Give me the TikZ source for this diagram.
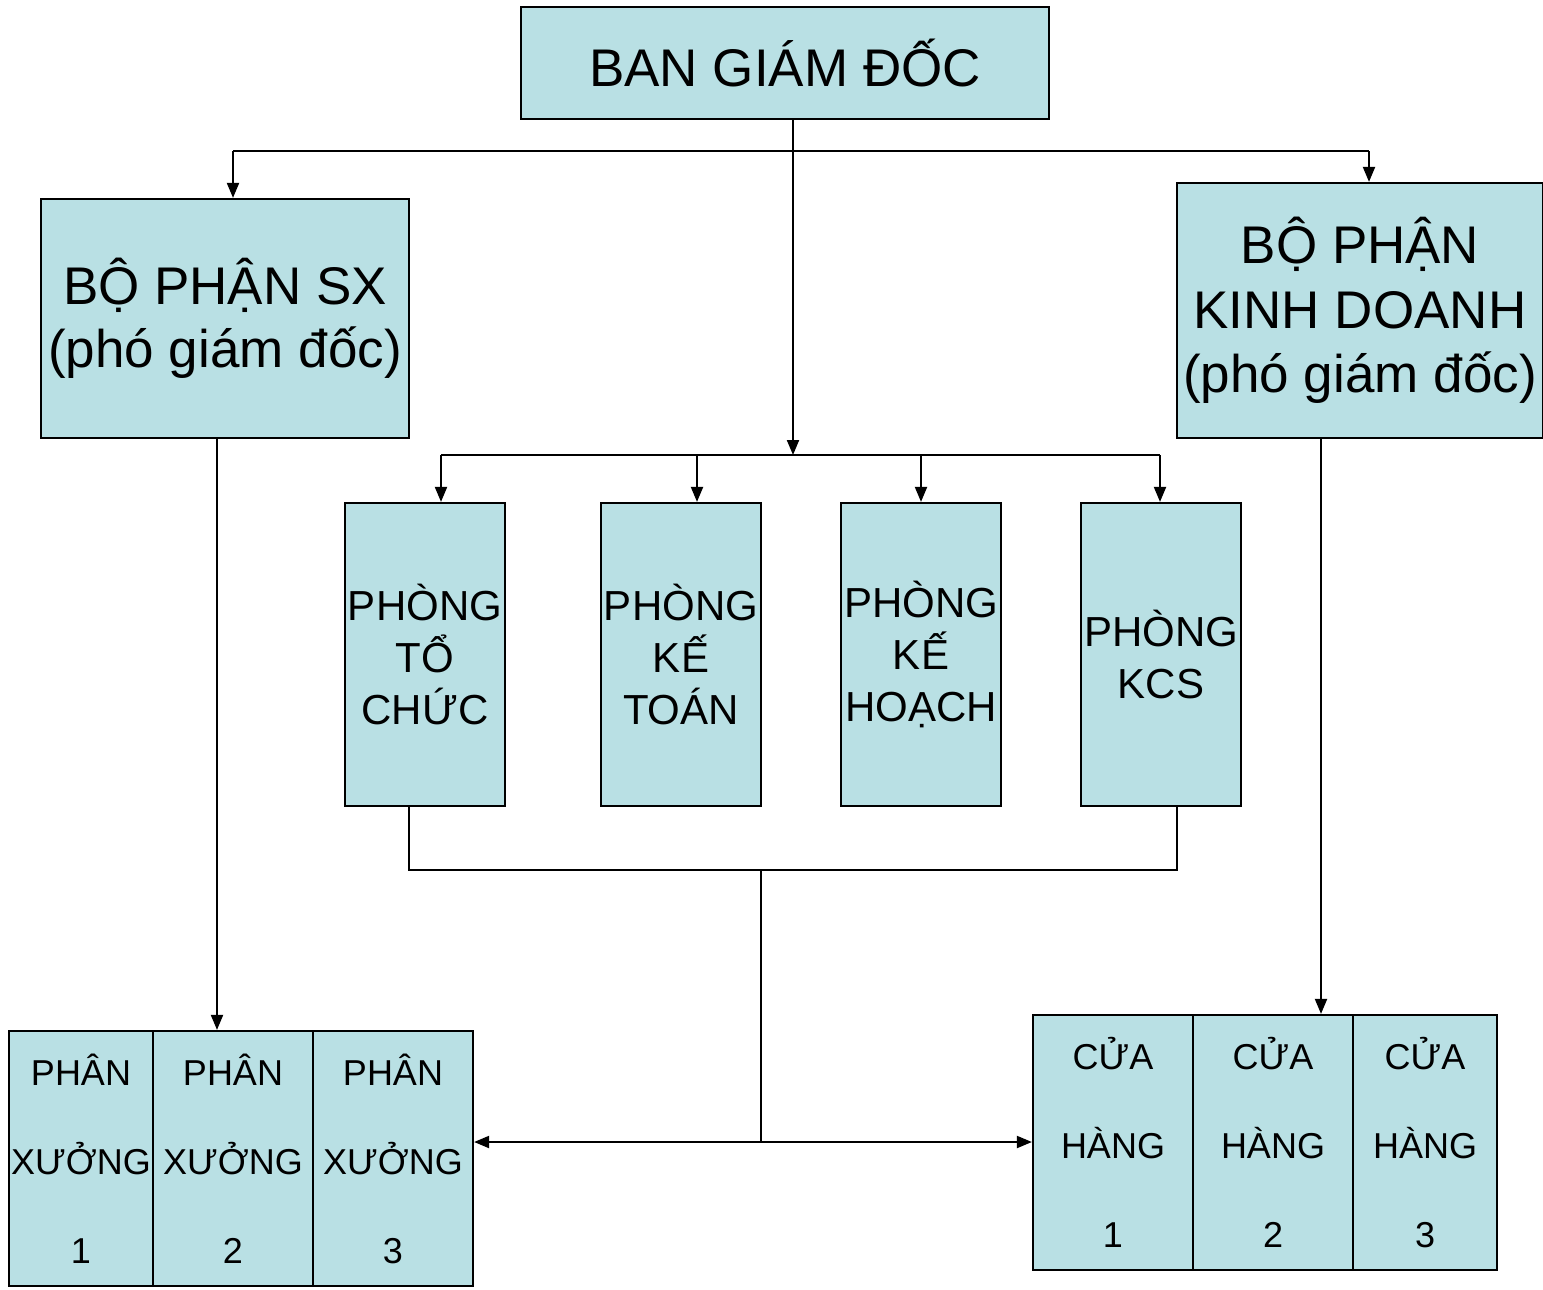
\documentclass[tikz,border=0pt]{standalone}
\usepackage{fontspec}
\setmainfont{Liberation Sans}
\usetikzlibrary{arrows.meta}
\definecolor{boxfill}{RGB}{185,224,228}
\tikzset{
  box/.style={draw, line width=2.2pt, fill=boxfill, inner sep=0pt, align=center, text=black},
  big/.style={font=\fontsize{53}{63}\selectfont},
  mid/.style={font=\fontsize{42}{52}\selectfont},
  small/.style={font=\fontsize{36}{89}\selectfont},
  conn/.style={line width=2pt},
  arr/.style={conn, -{Triangle[length=15pt,width=12pt]}}
}
\begin{document}
\begin{tikzpicture}[x=1pt,y=-1pt]
\useasboundingbox (0,0) rectangle (1543,1290);
% top
\node[box,big,minimum width=528pt,minimum height=112pt] (bgd) at (785,63) {BAN GIÁM ĐỐC};
\node[box,big,minimum width=368pt,minimum height=239pt] (sx) at (225,318.5) {BỘ PHẬN SX\\(phó giám đốc)};
\node[box,big,font=\fontsize{53}{64.5}\selectfont,minimum width=366pt,minimum height=255pt] (kd) at (1360,310.5) {BỘ PHẬN\\KINH DOANH\\(phó giám đốc)};
% phong
\node[box,mid,minimum width=160pt,minimum height=303pt] (pa) at (425,654.5) {PHÒNG\\TỔ\\CHỨC};
\node[box,mid,minimum width=160pt,minimum height=303pt] (pb) at (681,654.5) {PHÒNG\\KẾ\\TOÁN};
\node[box,mid,minimum width=160pt,minimum height=303pt] (pc) at (921,654.5) {PHÒNG\\KẾ\\HOẠCH};
\node[box,mid,minimum width=160pt,minimum height=303pt] (pd) at (1161,654.5) {PHÒNG\\KCS};
% phan xuong
\node[box,small,minimum width=144pt,minimum height=255pt] (px1) at (81,1158.5) {PHÂN\\XƯỞNG\\1};
\node[box,small,minimum width=160pt,minimum height=255pt] (px2) at (233,1158.5) {PHÂN\\XƯỞNG\\2};
\node[box,small,minimum width=160pt,minimum height=255pt] (px3) at (393,1158.5) {PHÂN\\XƯỞNG\\3};
% cua hang
\node[box,small,minimum width=160pt,minimum height=255pt] (ch1) at (1113,1142.5) {CỬA\\HÀNG\\1};
\node[box,small,minimum width=160pt,minimum height=255pt] (ch2) at (1273,1142.5) {CỬA\\HÀNG\\2};
\node[box,small,minimum width=144pt,minimum height=255pt] (ch3) at (1425,1142.5) {CỬA\\HÀNG\\3};
% coordinates
\coordinate (tl) at (233,151);
\coordinate (tr) at (1369,151);
\coordinate (j) at (793,455);
\coordinate (ja) at (441,455);
\coordinate (jb) at (697,455);
\coordinate (jc) at (921,455);
\coordinate (jd) at (1160,455);
\coordinate (b1) at (409,870);
\coordinate (b2) at (1177,870);
\coordinate (bm) at (761,870);
\coordinate (m) at (761,1142);
\coordinate (xs) at (217,438);
\coordinate (xk) at (1321,438);
% connectors
\draw[conn] (tl) -- (tr);
\draw[arr] (tl) -- (tl |- sx.north);
\draw[arr] (tr) -- (tr |- kd.north);
\draw[arr] (j |- bgd.south) -- (j);
\draw[conn] (ja) -- (jd);
\draw[arr] (ja) -- (ja |- pa.north);
\draw[arr] (jb) -- (jb |- pb.north);
\draw[arr] (jc) -- (jc |- pc.north);
\draw[arr] (jd) -- (jd |- pd.north);
\draw[conn] (b1 |- pa.south) -- (b1) -- (b2) -- (b2 |- pd.south);
\draw[conn] (bm) -- (m);
\draw[arr] (m) -- (m -| px3.east);
\draw[arr] (m) -- (m -| ch1.west);
\draw[arr] (xs) -- (xs |- px2.north);
\draw[arr] (xk) -- (xk |- ch2.north);
\end{tikzpicture}
\end{document}
